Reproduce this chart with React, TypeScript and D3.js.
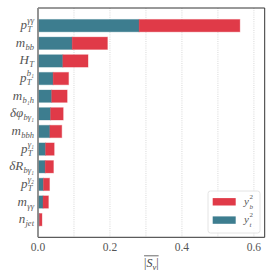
import React, { useEffect, useRef } from "react";
import * as d3 from "d3";

// label parts: [base, subscript, superscript]
const labels: [string, string, string][] = [
  ["p", "T", "γγ"],
  ["m", "bb", ""],
  ["H", "T", ""],
  ["p", "T", "b₁"],
  ["m", "b₁h", ""],
  ["δφ", "bγ₁", ""],
  ["m", "bbh", ""],
  ["p", "T", "γ₁"],
  ["δR", "bγ₁", ""],
  ["p", "T", "γ₂"],
  ["m", "γγ", ""],
  ["n", "jet", ""],
];
const ytValues = [0.281, 0.095, 0.069, 0.042, 0.038, 0.035, 0.033, 0.021, 0.02, 0.015, 0.014, 0.004];
const ybValues = [0.28, 0.098, 0.07, 0.043, 0.043, 0.035, 0.033, 0.024, 0.023, 0.017, 0.015, 0.007];
const xTicks = [0, 0.2, 0.4, 0.6];
const xGrid = [0.1, 0.2, 0.3, 0.4, 0.5, 0.6];

const RED = "#e03a48";
const TEAL = "#3d7d8f";
const FONT = "'Liberation Serif', 'DejaVu Serif', serif";

const W = 273, H = 278;
const m = { left: 38, right: 8.3, top: 8, bottom: 40.7 };

export default function App() {
  const ref = useRef<SVGSVGElement>(null);

  useEffect(() => {
    const svg = d3.select(ref.current);
    svg.selectAll("*").remove();
    const iw = W - m.left - m.right;
    const ih = H - m.top - m.bottom;

    const x = d3.scaleLinear().domain([0, 0.63]).range([m.left, m.left + iw]);
    const y = d3.scaleLinear().domain([-1, labels.length]).range([m.top, m.top + ih]);
    const bh = (y(1) - y(0)) * 0.7;

    // grid
    svg.append("g")
      .selectAll("line")
      .data(xGrid)
      .enter()
      .append("line")
      .attr("x1", (d) => x(d))
      .attr("x2", (d) => x(d))
      .attr("y1", m.top)
      .attr("y2", m.top + ih)
      .attr("stroke", "#d4d4d4")
      .attr("stroke-width", 0.9)
      .attr("stroke-dasharray", "1,1.2");

    // stacked bars
    const bars = svg.append("g");
    bars.selectAll("rect.yt")
      .data(ytValues)
      .enter()
      .append("rect")
      .attr("class", "yt")
      .attr("x", x(0))
      .attr("y", (d, i) => y(i) - bh / 2)
      .attr("width", (d) => x(d) - x(0))
      .attr("height", bh)
      .attr("fill", TEAL)
      .attr("stroke", TEAL)
      .attr("stroke-opacity", 0.35)
      .attr("stroke-width", 1);
    bars.selectAll("rect.yb")
      .data(ybValues)
      .enter()
      .append("rect")
      .attr("class", "yb")
      .attr("x", (d, i) => x(ytValues[i]))
      .attr("y", (d, i) => y(i) - bh / 2)
      .attr("width", (d, i) => x(ytValues[i] + d) - x(ytValues[i]))
      .attr("height", bh)
      .attr("fill", RED)
      .attr("stroke", RED)
      .attr("stroke-opacity", 0.35)
      .attr("stroke-width", 1);

    // spines
    svg.append("line").attr("x1", m.left).attr("x2", m.left + iw).attr("y1", m.top).attr("y2", m.top)
      .attr("stroke", "#333").attr("stroke-width", 1);
    svg.append("line").attr("x1", m.left + iw).attr("x2", m.left + iw).attr("y1", m.top).attr("y2", m.top + ih)
      .attr("stroke", "#333").attr("stroke-width", 1);
    svg.append("line").attr("x1", m.left).attr("x2", m.left + iw).attr("y1", m.top + ih).attr("y2", m.top + ih)
      .attr("stroke", "#333").attr("stroke-width", 1);
    svg.append("line").attr("x1", m.left).attr("x2", m.left).attr("y1", m.top).attr("y2", m.top + ih)
      .attr("stroke", "#888").attr("stroke-width", 1.8);

    // x tick labels
    svg.append("g")
      .selectAll("text")
      .data(xTicks)
      .enter()
      .append("text")
      .attr("x", (d) => x(d))
      .attr("y", m.top + ih + 14)
      .attr("text-anchor", "middle")
      .attr("font-family", FONT)
      .attr("font-size", 11.5)
      .attr("fill", "#555")
      .text((d) => d3.format(".1f")(d));

    // x label |S_v| with overline
    const xl = svg.append("text")
      .attr("x", m.left + iw / 2)
      .attr("y", m.top + ih + 30)
      .attr("text-anchor", "middle")
      .attr("font-family", FONT)
      .attr("font-size", 12)
      .attr("fill", "#444");
    xl.append("tspan").text("|");
    xl.append("tspan").attr("font-style", "italic").text("S");
    xl.append("tspan").attr("font-style", "italic").attr("font-size", 8.5).attr("dy", 2.5).text("v");
    xl.append("tspan").attr("dy", -2.5).text("|");
    const xlw = (xl.node() as SVGTextElement).getComputedTextLength();
    svg.append("line")
      .attr("x1", m.left + iw / 2 - xlw / 2)
      .attr("x2", m.left + iw / 2 + xlw / 2)
      .attr("y1", m.top + ih + 18.5)
      .attr("y2", m.top + ih + 18.5)
      .attr("stroke", "#444")
      .attr("stroke-width", 0.8);

    // y labels
    labels.forEach(([base, sub, sup], i) => {
      const g = svg.append("g");
      const bt = g.append("text")
        .attr("x", 0)
        .attr("y", 0)
        .attr("font-family", FONT)
        .attr("font-style", "italic")
        .attr("font-size", 13)
        .attr("fill", "#555")
        .text(base);
      const bw = (bt.node() as SVGTextElement).getComputedTextLength();
      let w = bw;
      if (sub) {
        const st = g.append("text")
          .attr("x", bw + 0.3)
          .attr("y", 3)
          .attr("font-family", FONT)
          .attr("font-style", "italic")
          .attr("font-size", 8.5)
          .attr("fill", "#555")
          .text(sub);
        w = Math.max(w, bw + 0.3 + (st.node() as SVGTextElement).getComputedTextLength());
      }
      if (sup) {
        const pt = g.append("text")
          .attr("x", bw + 0.3)
          .attr("y", -6)
          .attr("font-family", FONT)
          .attr("font-style", "italic")
          .attr("font-size", 8.5)
          .attr("fill", "#555")
          .text(sup);
        w = Math.max(w, bw + 0.3 + (pt.node() as SVGTextElement).getComputedTextLength());
      }
      g.attr("transform", `translate(${m.left - 4 - w}, ${y(i) + 3.5})`);
    });

    // legend
    const lg = svg.append("g").attr("transform", `translate(${208}, ${191})`);
    lg.append("rect")
      .attr("width", 52)
      .attr("height", 42)
      .attr("rx", 2.5)
      .attr("fill", "white")
      .attr("fill-opacity", 0.85)
      .attr("stroke", "#ddd")
      .attr("stroke-width", 0.8);
    const items: [string, string][] = [[RED, "b"], [TEAL, "t"]];
    items.forEach(([c, s], j) => {
      const yy = 10.8 + j * 18.3;
      lg.append("rect")
        .attr("x", 4.7)
        .attr("y", yy - 3.7)
        .attr("width", 23)
        .attr("height", 7.4)
        .attr("fill", c);
      lg.append("text")
        .attr("x", 36)
        .attr("y", yy + 3)
        .attr("font-family", FONT)
        .attr("font-style", "italic")
        .attr("font-size", 11)
        .attr("fill", "#555")
        .text("y");
      const tx = 36 + 5.6;
      lg.append("text")
        .attr("x", tx)
        .attr("y", yy + 6.8)
        .attr("font-family", FONT)
        .attr("font-style", "italic")
        .attr("font-size", 7)
        .attr("fill", "#555")
        .text(s);
      lg.append("text")
        .attr("x", tx)
        .attr("y", yy - 3)
        .attr("font-family", FONT)
        .attr("font-size", 7)
        .attr("fill", "#555")
        .text("2");
    });
  }, []);

  return (
    <svg
      ref={ref}
      width={W}
      height={H}
      style={{ position: "absolute", left: 0, top: 0, background: "white" }}
    />
  );
}
